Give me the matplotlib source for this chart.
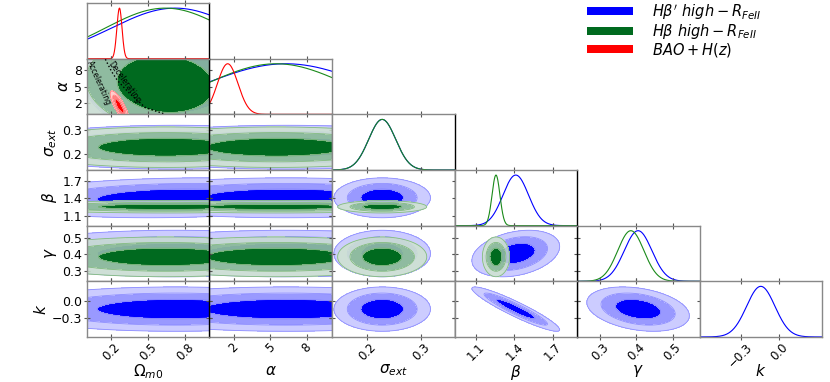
import numpy as np
import matplotlib
matplotlib.use('Agg')
import matplotlib.pyplot as plt
from matplotlib.patches import Patch

nan = np.nan

# parameters (order of the corner plot)
labels = [r'$\Omega_{m0}$', r'$\alpha$', r'$\sigma_{ext}$', r'$\beta$', r'$\gamma$', r'$k$']
limits = [(0.0, 1.0), (0.0, 10.1), (0.135, 0.362), (0.93, 1.89), (0.237, 0.574), (-0.62, 0.33)]
ticks = [[0.2, 0.5, 0.8], [2, 5, 8], [0.2, 0.3], [1.1, 1.4, 1.7], [0.3, 0.4, 0.5], [-0.3, 0.0]]
tick_labels = [['0.2', '0.5', '0.8'], ['2', '5', '8'], ['0.2', '0.3'],
               ['1.1', '1.4', '1.7'], ['0.3', '0.4', '0.5'], ['\u22120.3', '0.0']]

# Hbeta' high - R_FeII  (blue)
blue_mean = [0.72, 6.3, 0.228, 1.41, 0.405, -0.145]
blue_std = [0.42, 4.5, 0.026, 0.10, 0.041, 0.11]
blue_std1d = [0.52, 6.7, 0.025, 0.10, 0.038, 0.11]
blue_corr = {(0, 3): 0.15, (3, 4): 0.3, (3, 5): -0.93, (4, 5): -0.3}
blue_pair_std = {(0, 1): (0.30, 4.0)}

# Hbeta high - R_FeII  (green)
green_mean = [0.64, 5.5, 0.228, 1.255, 0.385, nan]
green_std = [0.36, 3.8, 0.024, 0.031, 0.035, nan]
green_std1d = [0.49, 5.75, 0.025, 0.031, 0.036, nan]
green_corr = {(0, 1): -0.1}
green_pair_std = {(0, 1): (0.26, 3.4)}

# BAO + H(z)  (red)
red_mean = [0.265, 1.5, nan, nan, nan, nan]
red_std = [0.022, 0.8, nan, nan, nan, nan]
red_std1d = [0.021, 0.85, nan, nan, nan, nan]
red_corr = {(0, 1): -0.8}
red_pair_std = {}

# q0 = 0 boundary in the Omega-alpha plane
q0_om = [0.15, 0.20, 0.25, 0.35, 0.475, 0.64]
q0_alpha = [10.0, 7.8, 6.1, 3.75, 1.25, 0.0]

legend_labels = [r"$H\beta'\ high-R_{FeII}$", r"$H\beta\ high-R_{FeII}$", r"$BAO+H(z)$"]

datasets = [
    dict(mean=blue_mean, std=blue_std, std1d=blue_std1d, corr=blue_corr, pair=blue_pair_std,
         fills=['#0000ff', '#9999ff', '#ccccff'], alphas=[1.0, 1.0, 1.0],
         edge='#7f7fff', line='#0000ff', z=1),
    dict(mean=green_mean, std=green_std, std1d=green_std1d, corr=green_corr, pair=green_pair_std,
         fills=['#006a1f', '#8fbf98', '#cfe3cf'], alphas=[1.0, 0.92, 0.85],
         edge='#70b070', line='#1a8a1a', z=2),
    dict(mean=red_mean, std=red_std, std1d=red_std1d, corr=red_corr, pair=red_pair_std,
         fills=['#ff0000', '#ff8080', '#ffcccc'], alphas=[1.0, 1.0, 1.0],
         edge='#ff6666', line='#ff0000', z=3),
]

# 68.3 / 95.4 / 99.7 per cent regions of a 2D gaussian
r2 = [2.30, 6.18, 11.83]

fig = plt.figure(figsize=(8.3, 3.82), dpi=100)
gs = fig.add_gridspec(6, 6, left=0.1048, right=0.9904, top=0.992, bottom=0.118,
                      hspace=0, wspace=0)
n = len(labels)

for i in range(n):
    for j in range(i + 1):
        ax = fig.add_subplot(gs[i, j])
        xlo, xhi = limits[j]
        ax.set_xlim(xlo, xhi)
        if i == j:
            xs = np.linspace(xlo, xhi, 400)
            for ds in datasets:
                m, s = ds['mean'][i], ds['std1d'][i]
                if np.isnan(m):
                    continue
                ax.plot(xs, np.exp(-0.5 * ((xs - m) / s) ** 2), color=ds['line'], lw=0.8)
            ax.set_ylim(0, 1.1)
            ax.set_yticks([])
        else:
            ylo, yhi = limits[i]
            ax.set_ylim(ylo, yhi)
            dx_ = 0.05 * (xhi - xlo)
            dy_ = 0.05 * (yhi - ylo)
            X, Y = np.meshgrid(np.linspace(xlo - dx_, xhi + dx_, 300),
                               np.linspace(ylo - dy_, yhi + dy_, 300))
            for ds in datasets:
                mx, my = ds['mean'][j], ds['mean'][i]
                if np.isnan(mx) or np.isnan(my):
                    continue
                sx, sy = ds['pair'].get((j, i), (ds['std'][j], ds['std'][i]))
                rho = ds['corr'].get((j, i), 0.0)
                u = (X - mx) / sx
                v = (Y - my) / sy
                d2 = (u * u - 2 * rho * u * v + v * v) / (1 - rho * rho)
                lv = [0] + r2
                for k in range(3):
                    ax.contourf(X, Y, d2, levels=[lv[k], lv[k + 1]], colors=[ds['fills'][k]],
                                alpha=ds['alphas'][k], zorder=ds['z'])
                ax.contour(X, Y, d2, levels=r2, colors=ds['edge'], linewidths=0.6,
                           alpha=0.8, zorder=ds['z'])
            if (i, j) == (1, 0):
                ax.plot(q0_om, q0_alpha, color='black', ls=':', lw=1.0, zorder=5)
                ax.text(0.05, 9.9, 'Accelerating', rotation=-66, fontsize=5.5,
                        ha='left', va='top', rotation_mode='anchor', zorder=6)
                ax.text(0.22, 10.0, 'Decelerating', rotation=-54, fontsize=5.5,
                        ha='left', va='top', rotation_mode='anchor', zorder=6)
            ax.set_yticks(ticks[i])
            if j == 0:
                ax.set_yticklabels(tick_labels[i])
                ax.set_ylabel(labels[i], fontsize=11, labelpad=2)
            else:
                ax.set_yticklabels([])
        ax.set_xticks(ticks[j])
        if i == n - 1:
            ax.set_xticklabels(tick_labels[j], rotation=45)
            ax.set_xlabel(labels[j], fontsize=11)
            ax.xaxis.set_label_coords(0.5, -0.46)
        else:
            ax.set_xticklabels([])
        ax.tick_params(direction='inout', length=4, width=0.8, color='#555555',
                       labelsize=9, top=True, right=(i != j), pad=1.5)
        ax.tick_params(axis='x', labelsize=8.5, pad=0.5)
        for side in ['left', 'top', 'bottom', 'right']:
            ax.spines[side].set_color('#888888')
            ax.spines[side].set_linewidth(1.0)
        if j in (0, 2, 3):
            ax.spines['right'].set_color('black')
        ax.set_zorder(1 if j in (0, 2, 3) else 0)

handles = [Patch(facecolor=ds['fills'][0], edgecolor='none') for ds in datasets]
fig.legend(handles, legend_labels, loc='upper left', bbox_to_anchor=(0.707, 0.995),
           frameon=False, fontsize=10.5, handlelength=3.2, handleheight=0.45,
           labelspacing=0.02, handletextpad=1.3, borderpad=0, borderaxespad=0)

fig.savefig('out.png', dpi=100)
